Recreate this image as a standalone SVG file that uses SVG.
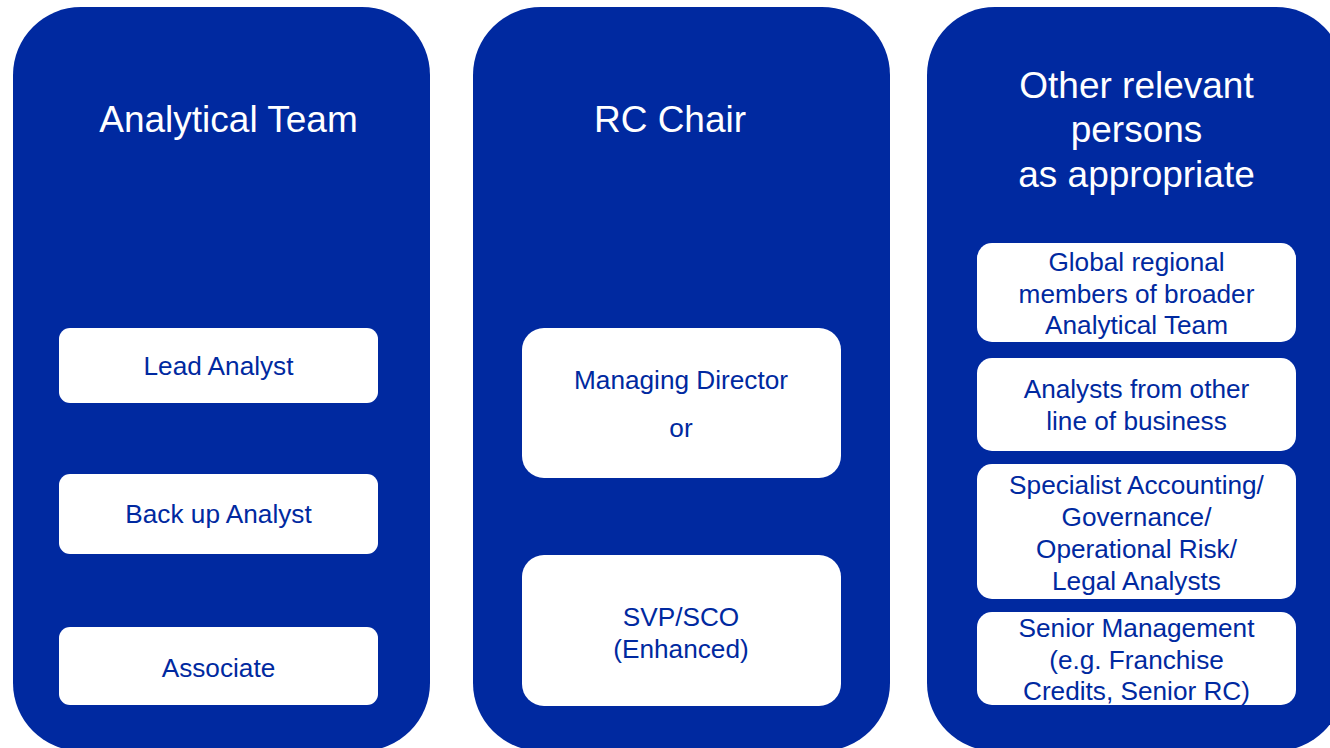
<svg xmlns="http://www.w3.org/2000/svg" width="1330" height="748" viewBox="0 0 1330 748">
<style>
.panel{fill:#0029A0}
.box{fill:#FFFFFF}
.title{font-family:"Liberation Sans",Arial,sans-serif;font-size:37px;fill:#FFFFFF;text-anchor:middle}
.lbl{font-family:"Liberation Sans",Arial,sans-serif;font-size:26.2px;fill:#0029A0;text-anchor:middle}
</style>
<rect width="1330" height="748" fill="#FFFFFF"/>
<g id="panel-analytical-team">
<rect class="panel" x="13" y="7" width="417" height="744" rx="68" ry="68"/>
<text class="title" x="228.5" y="132">Analytical Team</text>
</g>
<g id="panel-rc-chair">
<rect class="panel" x="473" y="7" width="417" height="744" rx="68" ry="68"/>
<text class="title" x="670" y="132">RC Chair</text>
</g>
<g id="panel-other">
<rect class="panel" x="927" y="7" width="417" height="744" rx="68" ry="68"/>
<text class="title" x="1136.5" y="98">Other relevant</text>
<text class="title" x="1136.5" y="142">persons</text>
<text class="title" x="1136.5" y="187">as appropriate</text>
</g>
<g id="node-lead-analyst">
<rect class="box" x="59" y="328" width="319" height="75" rx="11"/>
<text class="lbl" x="218.5" y="375">Lead Analyst</text>
</g>
<g id="node-backup-analyst">
<rect class="box" x="59" y="474" width="319" height="80" rx="11"/>
<text class="lbl" x="218.5" y="523">Back up Analyst</text>
</g>
<g id="node-associate">
<rect class="box" x="59" y="627" width="319" height="78" rx="11"/>
<text class="lbl" x="218.5" y="677">Associate</text>
</g>
<g id="node-managing-director">
<rect class="box" x="522" y="328" width="319" height="150" rx="22"/>
<text class="lbl" x="681" y="389">Managing Director</text>
<text class="lbl" x="681" y="437">or</text>
</g>
<g id="node-svp-sco">
<rect class="box" x="522" y="555" width="319" height="151" rx="22"/>
<text class="lbl" x="681" y="626">SVP/SCO</text>
<text class="lbl" x="681" y="658">(Enhanced)</text>
</g>
<g id="node-global-regional">
<rect class="box" x="977" y="243" width="319" height="99" rx="15"/>
<text class="lbl" x="1136.5" y="271">Global regional</text>
<text class="lbl" x="1136.5" y="303">members of broader</text>
<text class="lbl" x="1136.5" y="334">Analytical Team</text>
</g>
<g id="node-analysts-other-lob">
<rect class="box" x="977" y="358" width="319" height="93" rx="15"/>
<text class="lbl" x="1136.5" y="398">Analysts from other</text>
<text class="lbl" x="1136.5" y="430">line of business</text>
</g>
<g id="node-specialist">
<rect class="box" x="977" y="464" width="319" height="135" rx="15"/>
<text class="lbl" x="1136.5" y="494">Specialist Accounting/</text>
<text class="lbl" x="1136.5" y="526">Governance/</text>
<text class="lbl" x="1136.5" y="558">Operational Risk/</text>
<text class="lbl" x="1136.5" y="590">Legal Analysts</text>
</g>
<g id="node-senior-management">
<rect class="box" x="977" y="612" width="319" height="93" rx="15"/>
<text class="lbl" x="1136.5" y="637">Senior Management</text>
<text class="lbl" x="1136.5" y="669">(e.g. Franchise</text>
<text class="lbl" x="1136.5" y="700">Credits, Senior RC)</text>
</g>
<g id="connectors"></g>
</svg>
